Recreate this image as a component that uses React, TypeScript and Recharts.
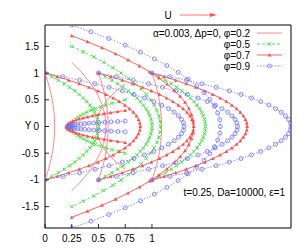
import React from "react";
import { ScatterChart, Scatter, XAxis, YAxis } from "recharts";

// stations along the channel where velocity profiles are drawn
const stations = [0, 0.25, 0.5, 0.75, 1];

// wall half-width h at each station, and centreline velocity, per series
const wallPhi02 = [1, 1.2, 1, 0.8, 1];
const centrePhi02 = [0.09, 0.32, 0.09, -0.27, 0.09];
const wallPhi05 = [1, 1.5, 1, 0.5, 1];
const centrePhi05 = [0.5, 0.83, 0.5, -0.5, 0.5];
const wallPhi07 = [1, 1.7, 1, 0.3, 1];
const centrePhi07 = [0.89, 1.14, 0.89, -0.55, 0.89];
const wallPhi09 = [1, 1.9, 1, 0.1, 1];
const centrePhi09 = [1.3, 1.39, 1.3, -0.53, 1.3];

// sampled profile: fraction of channel half-width and relative velocity (centre -> wall)
const yFraction = [0, 0.067, 0.133, 0.2, 0.267, 0.333, 0.4, 0.467, 0.533, 0.6, 0.667, 0.733, 0.8, 0.867, 0.933, 1];
const profileShape = [1, 0.996, 0.982, 0.96, 0.929, 0.889, 0.84, 0.782, 0.716, 0.64, 0.556, 0.462, 0.36, 0.249, 0.129, 0];

const xTicks = [0, 0.25, 0.5, 0.75, 1];
const yTicks = [-1.5, -1, -0.5, 0, 0.5, 1, 1.5];

const RED = "#ff5050";
const THINRED = "#ff6a6a";
const GREEN = "#33e033";
const BLUE = "#7070ff";
const FONT = "'Liberation Sans', Arial, sans-serif";

type Pt = { x: number; y: number };

function profile(x0: number, h: number, u0: number): Pt[] {
  const pts: Pt[] = [];
  for (let k = yFraction.length - 1; k >= 0; k--) {
    pts.push({ x: x0 + u0 * profileShape[k], y: h * yFraction[k] });
  }
  for (let k = 1; k < yFraction.length; k++) {
    pts.push({ x: x0 + u0 * profileShape[k], y: -h * yFraction[k] });
  }
  return pts;
}

const Cross = (props: any) => {
  const { cx, cy } = props;
  if (cx == null || cy == null) return <g />;
  const s = 1.7;
  return (
    <g stroke={GREEN} strokeWidth={0.9}>
      <line x1={cx - s} y1={cy - s} x2={cx + s} y2={cy + s} />
      <line x1={cx - s} y1={cy + s} x2={cx + s} y2={cy - s} />
    </g>
  );
};
const Tri = (props: any) => {
  const { cx, cy } = props;
  if (cx == null || cy == null) return <g />;
  const s = 1.9;
  return <polygon points={`${cx},${cy - s} ${cx - s},${cy + s * 0.8} ${cx + s},${cy + s * 0.8}`} fill={RED} />;
};
const Circ = (props: any) => {
  const { cx, cy } = props;
  if (cx == null || cy == null) return <g />;
  return <circle cx={cx} cy={cy} r={2} fill="none" stroke={BLUE} strokeWidth={0.8} />;
};
const NoShape = () => <g />;

const series = [
  { walls: wallPhi02, centres: centrePhi02, color: THINRED, dash: undefined as string | undefined, width: 0.8, shape: NoShape },
  { walls: wallPhi05, centres: centrePhi05, color: GREEN, dash: "3 2", width: 0.8, shape: Cross },
  { walls: wallPhi07, centres: centrePhi07, color: RED, dash: undefined, width: 0.9, shape: Tri },
  { walls: wallPhi09, centres: centrePhi09, color: BLUE, dash: "1.5 1.5", width: 0.8, shape: Circ },
];

const TL = 4;

const BottomTick = (p: any) => {
  const { x, y, payload } = p;
  return (
    <g>
      <line x1={x} x2={x} y1={y} y2={y - TL} stroke="#000" strokeWidth={0.8} />
      <text x={x} y={y + 14} textAnchor="middle" fontSize={10} fontFamily={FONT} fill="#000">
        {payload.value}
      </text>
    </g>
  );
};
const TopTick = (p: any) => {
  const { x, y } = p;
  return <line x1={x} x2={x} y1={y} y2={y + TL} stroke="#000" strokeWidth={0.8} />;
};
const LeftTick = (p: any) => {
  const { x, y, payload } = p;
  return (
    <g>
      <line x1={x} x2={x + TL} y1={y} y2={y} stroke="#000" strokeWidth={0.8} />
      <text x={x - 6} y={y + 3.5} textAnchor="end" fontSize={10} fontFamily={FONT} fill="#000">
        {payload.value}
      </text>
    </g>
  );
};
const RightTick = (p: any) => {
  const { x, y } = p;
  return <line x1={x} x2={x - TL} y1={y} y2={y} stroke="#000" strokeWidth={0.8} />;
};

export default function App() {
  const scatters: React.ReactNode[] = [];
  series.forEach((s, si) => {
    stations.forEach((x0, i) => {
      const data = profile(x0, s.walls[i], s.centres[i]);
      scatters.push(
        <Scatter
          key={`s${si}-${i}`}
          xAxisId="b"
          yAxisId="l"
          data={data}
          line={{ stroke: s.color, strokeWidth: s.width, strokeDasharray: s.dash }}
          lineType="joint"
          shape={s.shape}
          fill={s.color}
          isAnimationActive={false}
        />
      );
    });
  });

  const lx1 = 257;
  const lx2 = 282;
  const rows = [33, 44, 55, 66];

  return (
    <div style={{ position: "absolute", left: 0, top: 0, width: 305, height: 249, background: "#fff" }}>
      <ScatterChart width={305} height={249} margin={{ top: 0, right: 0, bottom: 0, left: 0 }}>
        <XAxis
          xAxisId="b"
          dataKey="x"
          type="number"
          domain={[0, 2.3]}
          ticks={xTicks}
          allowDataOverflow
          height={21}
          tickSize={0}
          tickMargin={0}
          tickLine={false}
          tick={BottomTick}
          stroke="#000"
          interval={0}
        />
        <XAxis
          xAxisId="t"
          orientation="top"
          type="number"
          domain={[0, 2.3]}
          ticks={xTicks}
          height={25}
          tickSize={0}
          tickMargin={0}
          tickLine={false}
          tick={TopTick}
          stroke="#000"
          interval={0}
        />
        <YAxis
          yAxisId="l"
          dataKey="y"
          type="number"
          domain={[-1.9, 1.9]}
          ticks={yTicks}
          allowDataOverflow
          width={45}
          tickSize={0}
          tickMargin={0}
          tickLine={false}
          tick={LeftTick}
          stroke="#000"
          interval={0}
        />
        <YAxis
          yAxisId="r"
          orientation="right"
          type="number"
          domain={[-1.9, 1.9]}
          ticks={yTicks}
          width={14}
          tickSize={0}
          tickMargin={0}
          tickLine={false}
          tick={RightTick}
          stroke="#000"
          interval={0}
        />
        {scatters}
      </ScatterChart>
      <svg
        width={305}
        height={249}
        style={{ position: "absolute", left: 0, top: 0, pointerEvents: "none" }}
        fontFamily={FONT}
      >
        <text x={28} y={129} fontSize={10} textAnchor="middle">Y</text>
        <text x={168} y={19} fontSize={10} textAnchor="middle">U</text>
        <line x1={180} y1={15} x2={212} y2={15} stroke={RED} strokeWidth={0.8} />
        <polygon points="217,15 210,13 210,17" fill={RED} />
        <g fontSize={10} textAnchor="end">
          <text x={250} y={rows[0] + 3.5}>α=0.003, Δp=0, φ=0.2</text>
          <text x={250} y={rows[1] + 3.5}>φ=0.5</text>
          <text x={250} y={rows[2] + 3.5}>φ=0.7</text>
          <text x={250} y={rows[3] + 3.5}>φ=0.9</text>
        </g>
        <line x1={lx1} x2={lx2} y1={rows[0]} y2={rows[0]} stroke={THINRED} strokeWidth={0.8} />
        <line x1={lx1} x2={lx2} y1={rows[1]} y2={rows[1]} stroke={GREEN} strokeWidth={0.8} strokeDasharray="3 2" />
        <Cross cx={(lx1 + lx2) / 2} cy={rows[1]} />
        <line x1={lx1} x2={lx2} y1={rows[2]} y2={rows[2]} stroke={RED} strokeWidth={0.9} />
        <Tri cx={(lx1 + lx2) / 2} cy={rows[2]} />
        <line x1={lx1} x2={lx2} y1={rows[3]} y2={rows[3]} stroke={BLUE} strokeWidth={0.8} strokeDasharray="1.5 1.5" />
        <Circ cx={(lx1 + lx2) / 2} cy={rows[3]} />
        <text x={285} y={196} fontSize={10} textAnchor="end">t=0.25, Da=10000, ε=1</text>
      </svg>
    </div>
  );
}
